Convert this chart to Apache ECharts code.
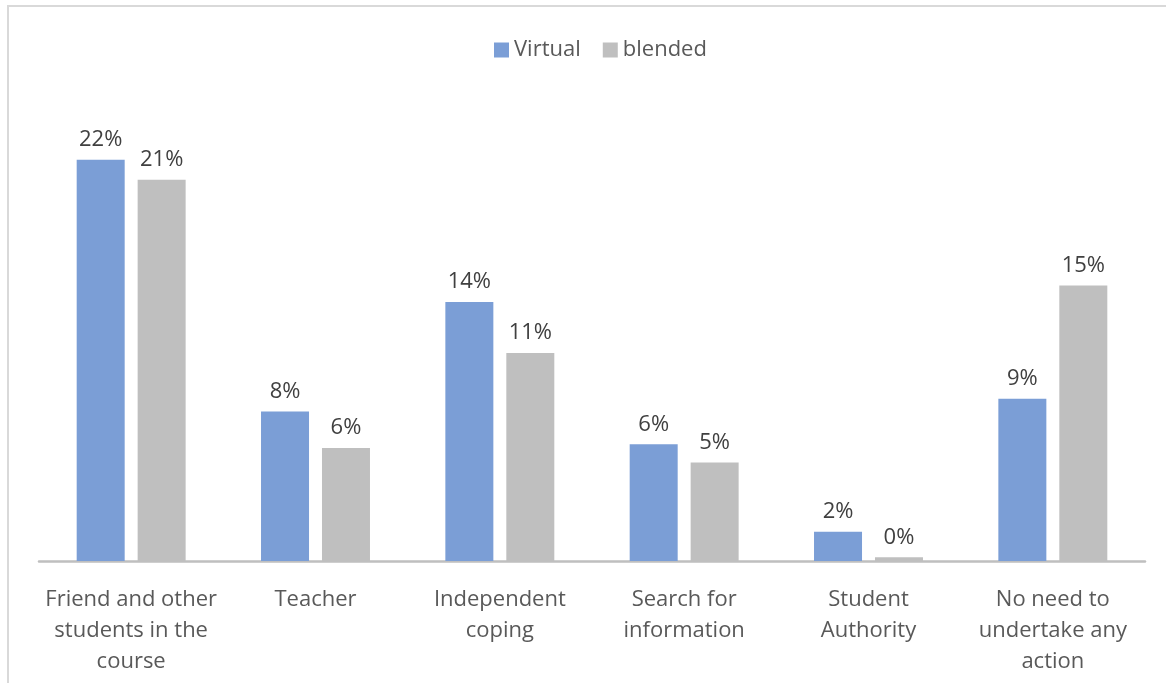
<!DOCTYPE html>
<html>
<head>
<meta charset="utf-8">
<script src="https://cdn.jsdelivr.net/npm/echarts@6/dist/echarts.min.js"></script>
<style>
  html, body { margin: 0; padding: 0; background: #ffffff; }
  #chart { width: 1166px; height: 683px; }
</style>
</head>
<body>
<div id="chart"></div>
<script>
// Categories of help sought (tick labels, wrapped)
const categories = [
  'Friend and other\nstudents in the\ncourse',
  'Teacher',
  'Independent\ncoping',
  'Search for\ninformation',
  'Student\nAuthority',
  'No need to\nundertake any\naction'
];

// Share of respondents, percent
const virtualValues = [22.0, 8.2, 14.2, 6.4, 1.6, 8.9];
const blendedValues = [20.9, 6.2, 11.4, 5.4, 0.2, 15.1];

const seriesNames = ['Virtual', 'blended'];

const FONT = '"Open Sans", "Noto Sans", sans-serif';

const chart = echarts.init(document.getElementById('chart'), null, { renderer: 'canvas' });

const pctLabel = {
  show: true,
  position: 'top',
  distance: 9,
  fontFamily: FONT,
  fontSize: 22,
  lineHeight: 22,
  color: '#404040',
  formatter: p => Math.round(p.value) + '%'
};

chart.setOption({
  animation: false,
  backgroundColor: '#ffffff',
  graphic: [{
    type: 'rect',
    shape: { x: 8, y: 6, width: 1300, height: 900 },
    style: { fill: 'none', stroke: '#d9d9d9', lineWidth: 2 },
    silent: true,
    z: -1
  }],
  legend: {
    left: 489,
    top: 34,
    itemWidth: 15,
    itemHeight: 15,
    itemGap: 22,
    icon: 'rect',
    textStyle: { fontFamily: FONT, fontSize: 22, lineHeight: 22, color: '#595959' },
    data: seriesNames
  },
  grid: { left: 39, right: 21, top: 105, bottom: 122 },
  xAxis: {
    type: 'category',
    data: categories,
    axisTick: { show: false },
    axisLine: { lineStyle: { color: '#bfbfbf', width: 2.5 } },
    axisLabel: {
      interval: 0,
      margin: 23,
      fontFamily: FONT,
      fontSize: 22,
      lineHeight: 31,
      color: '#595959',
      align: 'center'
    }
  },
  yAxis: {
    type: 'value',
    min: 0,
    max: 25,
    show: false,
    splitLine: { show: false }
  },
  series: [
    {
      name: seriesNames[0],
      type: 'bar',
      data: virtualValues,
      barWidth: 48,
      barGap: '27%',
      itemStyle: { color: '#7b9ed6' },
      label: pctLabel
    },
    {
      name: seriesNames[1],
      type: 'bar',
      data: blendedValues,
      barWidth: 48,
      itemStyle: { color: '#bfbfbf' },
      label: pctLabel
    }
  ]
});
</script>
</body>
</html>
